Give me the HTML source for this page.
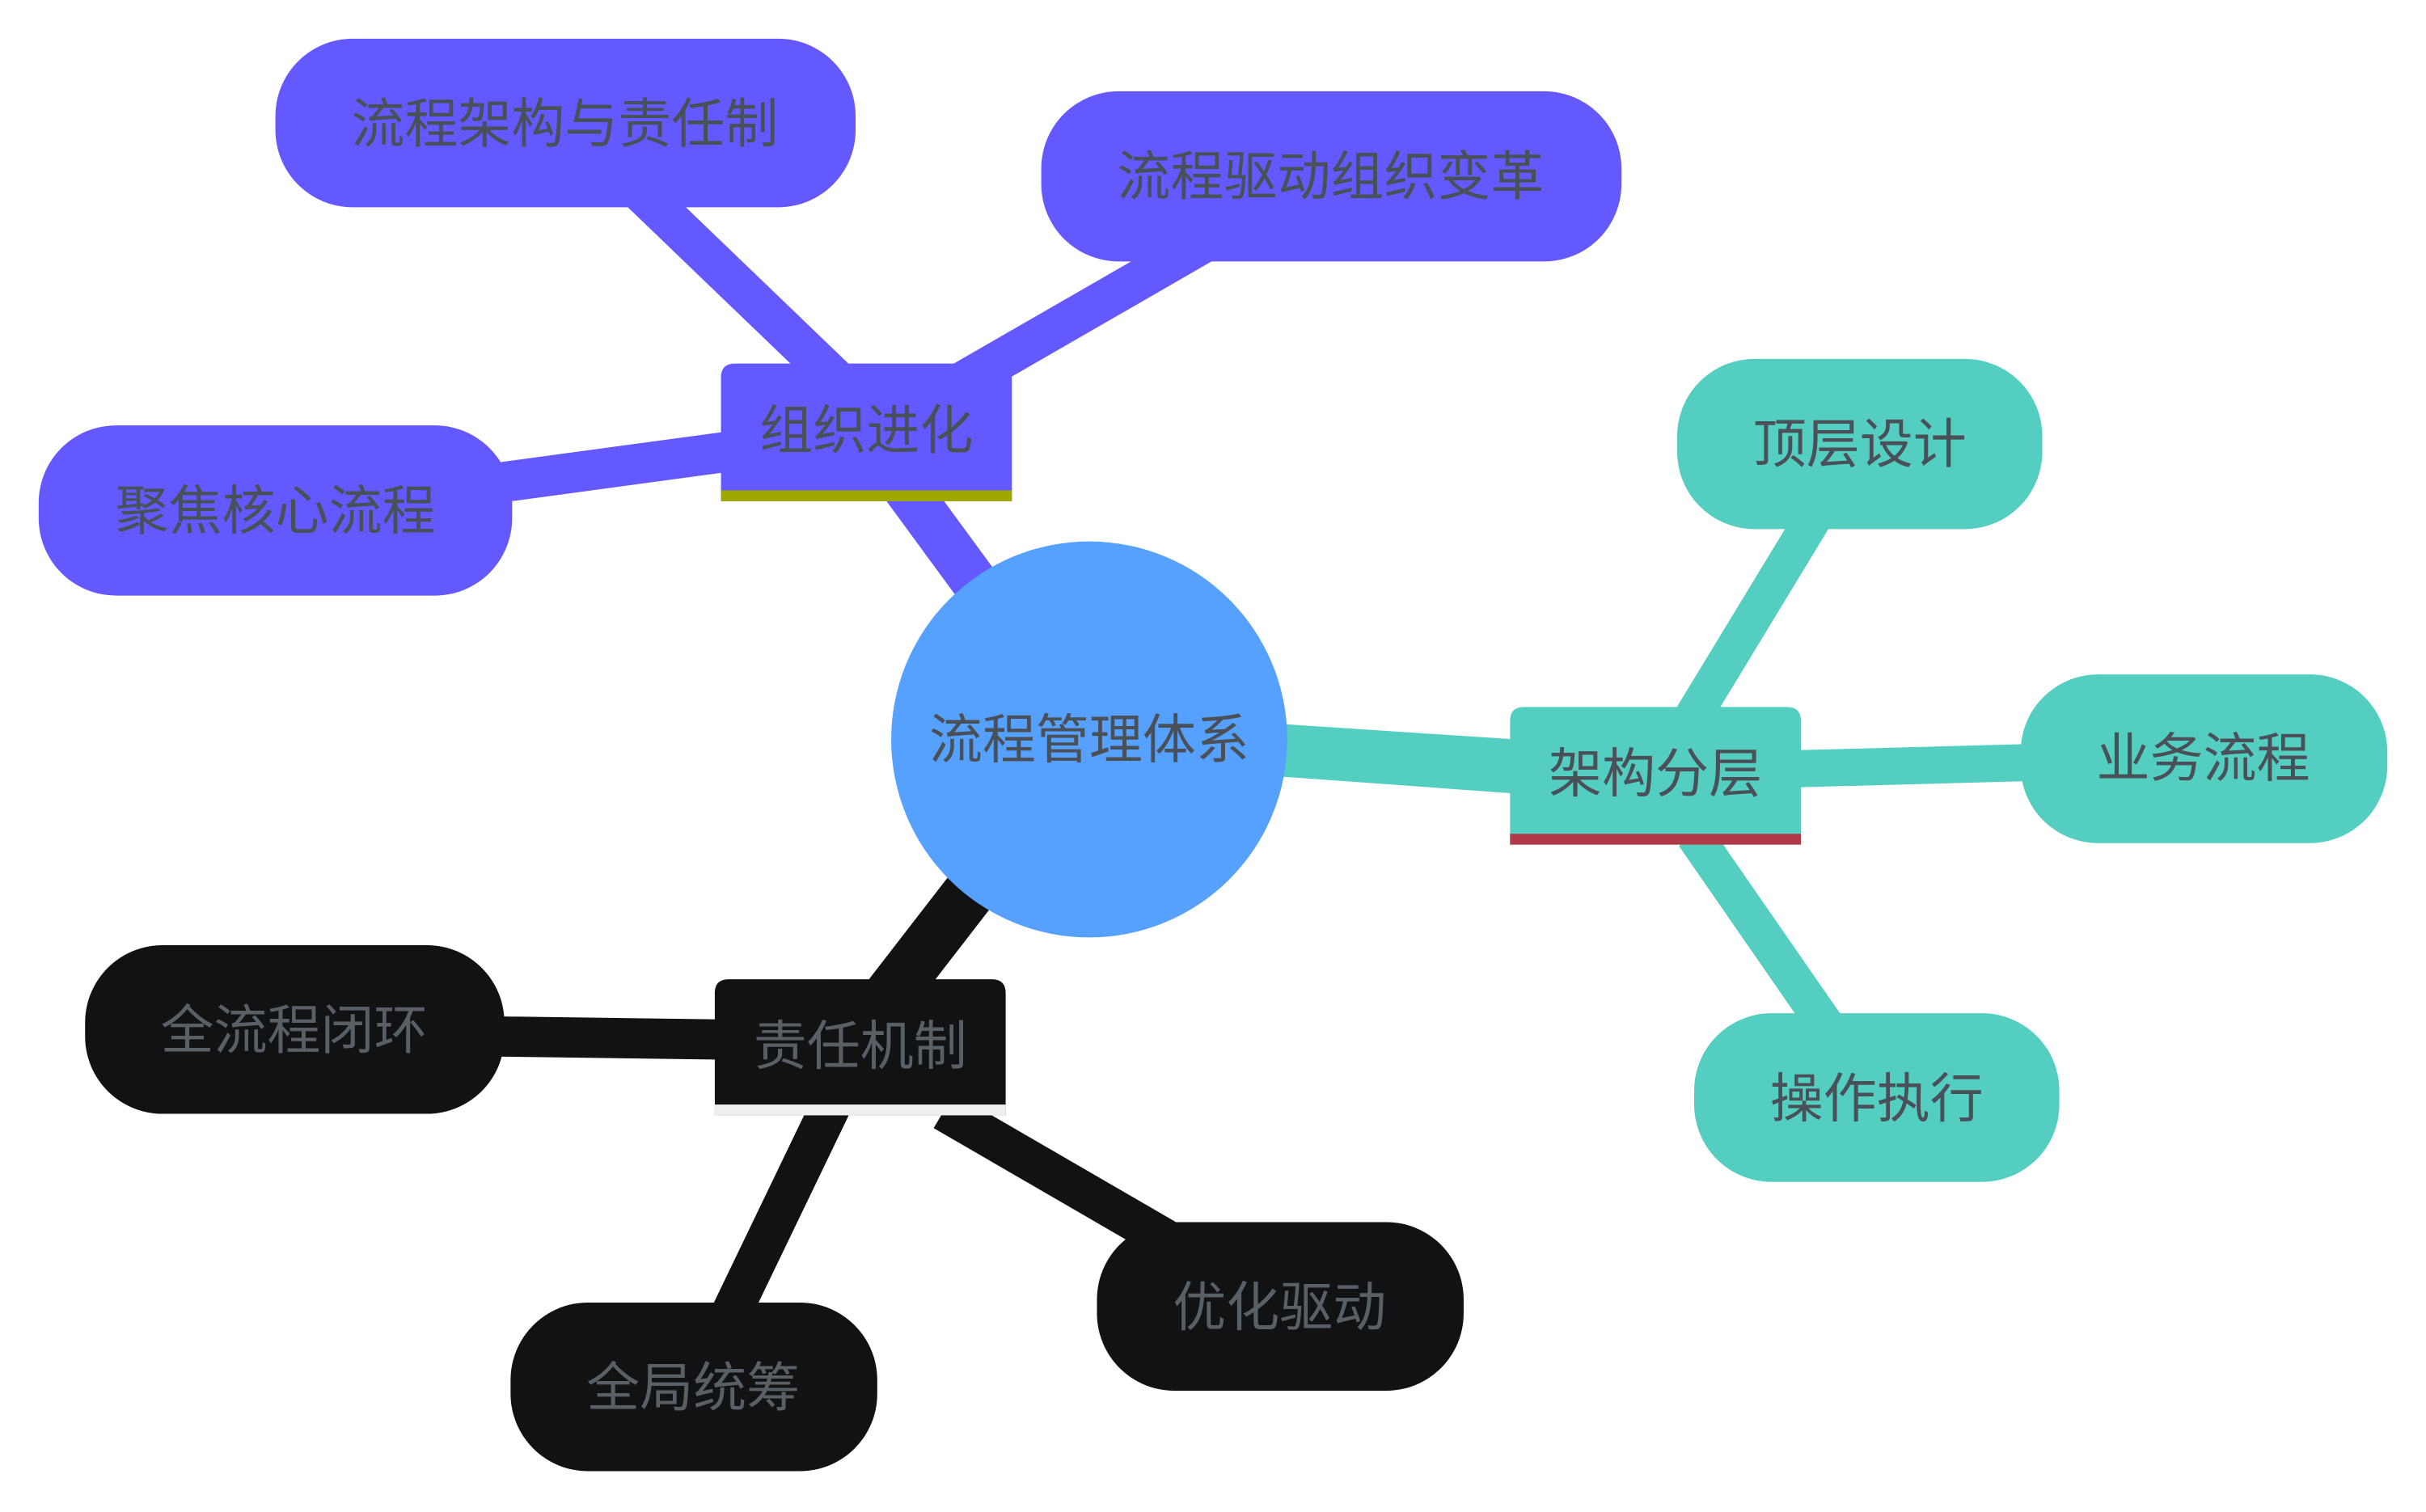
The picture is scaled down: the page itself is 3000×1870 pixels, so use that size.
<!DOCTYPE html>
<html><head><meta charset="utf-8"><style>
html,body{margin:0;padding:0;background:#fff;}
svg{display:block;}
text{font-family:"Liberation Sans","Noto Sans CJK SC",sans-serif;font-size:34.5px;text-anchor:middle;dominant-baseline:central;}
</style></head><body>
<svg width="3000" height="1870" viewBox="0 0 1568 977.4" preserveAspectRatio="none" xmlns="http://www.w3.org/2000/svg">
<g stroke-linecap="butt">
<!-- purple -->
<line x1="640" y1="390" x2="585" y2="315" stroke="#6359ff" stroke-width="30"/>
<line x1="540" y1="245" x2="410" y2="120" stroke="#6359ff" stroke-width="26"/>
<line x1="620" y1="248" x2="790" y2="150" stroke="#6359ff" stroke-width="26"/>
<line x1="470" y1="292" x2="315" y2="313" stroke="#6359ff" stroke-width="26"/>
<!-- teal -->
<polygon points="828,468 980,478 980,513 828,502" fill="#53cec0"/>
<line x1="1090" y1="470" x2="1175" y2="330" stroke="#53cec0" stroke-width="24"/>
<line x1="1160" y1="497" x2="1310" y2="493" stroke="#53cec0" stroke-width="24"/>
<line x1="1095" y1="540" x2="1185" y2="670" stroke="#53cec0" stroke-width="24"/>
<!-- black -->
<line x1="628" y1="575" x2="570" y2="650" stroke="#111214" stroke-width="34"/>
<line x1="470" y1="672" x2="320" y2="670" stroke="#111214" stroke-width="26"/>
<line x1="537" y1="715" x2="472" y2="850" stroke="#111214" stroke-width="26"/>
<line x1="610" y1="718" x2="760" y2="805" stroke="#111214" stroke-width="26"/>
</g>
<!-- center -->
<circle cx="704" cy="478" r="128" fill="#56a0fe"/>
<text x="704" y="478" fill="#4a5058">流程管理体系</text>
<!-- level-1 -->
<path d="M466,324 V244 q0,-9 9,-9 H645 q9,0 9,9 V324 Z" fill="#6359ff"/>
<rect x="466" y="317" width="188" height="7" fill="#9ea800"/>
<text x="560" y="278" fill="#4a5058">组织进化</text>
<path d="M976,546 V466 q0,-9 9,-9 H1155 q9,0 9,9 V546 Z" fill="#53cec0"/>
<rect x="976" y="539" width="188" height="7" fill="#b03a48"/>
<text x="1070" y="500" fill="#4a5058">架构分层</text>
<path d="M462,721 V642 q0,-9 9,-9 H641 q9,0 9,9 V721 Z" fill="#111214"/>
<rect x="462" y="714" width="188" height="7" fill="#eeeeee"/>
<text x="556" y="676" fill="#5a5f66">责任机制</text>
<!-- leaves purple -->
<rect x="178" y="25" width="375" height="109" rx="50" fill="#6359ff"/>
<text x="365" y="80" fill="#4a5058">流程架构与责任制</text>
<rect x="673" y="59" width="375" height="110" rx="50" fill="#6359ff"/>
<text x="860" y="114" fill="#4a5058">流程驱动组织变革</text>
<rect x="25" y="275" width="306" height="110" rx="50" fill="#6359ff"/>
<text x="178" y="330" fill="#4a5058">聚焦核心流程</text>
<!-- leaves teal -->
<rect x="1084" y="232" width="236" height="110" rx="50" fill="#53cec0"/>
<text x="1202" y="287" fill="#4a5058">顶层设计</text>
<rect x="1306" y="436" width="237" height="109" rx="50" fill="#53cec0"/>
<text x="1424" y="490" fill="#4a5058">业务流程</text>
<rect x="1095" y="655" width="236" height="109" rx="50" fill="#53cec0"/>
<text x="1213" y="710" fill="#4a5058">操作执行</text>
<!-- leaves black -->
<rect x="55" y="611" width="271" height="109" rx="50" fill="#111214"/>
<text x="190" y="666" fill="#5a5f66">全流程闭环</text>
<rect x="330" y="842" width="237" height="109" rx="50" fill="#111214"/>
<text x="448" y="897" fill="#5a5f66">全局统筹</text>
<rect x="709" y="790" width="237" height="109" rx="50" fill="#111214"/>
<text x="827" y="845" fill="#5a5f66">优化驱动</text>
</svg>
</body></html>
